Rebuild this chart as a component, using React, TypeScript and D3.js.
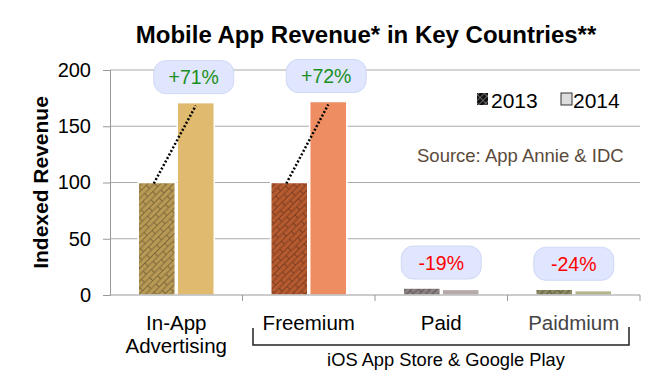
import * as d3 from 'd3'
import { useEffect, useRef } from 'react'

const categories = ['In-App Advertising', 'Freemium', 'Paid', 'Paidmium']
const categoryLines = [['In-App', 'Advertising'], ['Freemium'], ['Paid'], ['Paidmium']]
const years = ['2013', '2014']
const values2013 = [100, 100, 6.2, 5.1]
const values2014 = [171, 172, 5.0, 3.9]
const changeLabels = ['+71%', '+72%', '-19%', '-24%']
const yTicks = [0, 50, 100, 150, 200]

const colors2013 = ['#b89a55', '#b65a2f', '#8a8080', '#8c8a62']
const colors2014 = ['#dfba6f', '#ed8d61', '#b5a9a9', '#b5b48b']

const width = 664
const height = 384
const marginLeft = 110
const marginRight = 24
const yTop = 70
const yBottom = 295
const font = '"Liberation Sans", Arial, sans-serif'

export default function App() {
  const gy = useRef<SVGGElement>(null)

  const x0 = d3.scaleBand<string>().domain(categories).range([marginLeft, width - marginRight]).padding(0)
  const x1 = d3.scaleBand<string>().domain(years).range([-38, 38]).paddingInner(0.05)
  const y = d3.scaleLinear().domain([0, 200]).range([yBottom, yTop])
  const w = x1.bandwidth()

  useEffect(() => {
    const g = d3.select(gy.current as SVGGElement)
    g.selectAll('*').remove()
    g.call(d3.axisLeft(y).tickValues(yTicks).tickSize(7).tickPadding(12))
    g.select('.domain').attr('stroke', '#999')
    g.selectAll('.tick line').attr('stroke', '#999')
    g.selectAll('.tick text')
      .attr('font-family', font)
      .attr('font-size', 20)
      .attr('fill', '#000')
  }, [])

  const center = (c: string) => (x0(c) as number) + x0.bandwidth() / 2

  return (
    <svg width={width} height={height} style={{ position: 'absolute', left: 0, top: 0 }} fontFamily={font}>
      <defs>
        {categories.map((c, i) => (
          <pattern
            key={c}
            id={`brick${i}`}
            width={14}
            height={9}
            patternUnits="userSpaceOnUse"
            patternTransform="rotate(-45)"
          >
            <rect width={14} height={9} fill={colors2013[i]} />
            <path
              d="M0,0.5H14M0,5H14M0.5,0.5V5M7.5,5V9"
              stroke={d3.color(colors2013[i])!.darker(1.2).toString()}
              strokeWidth={0.9}
              fill="none"
            />
          </pattern>
        ))}
        <pattern id="legendBrick" width={6} height={4} patternUnits="userSpaceOnUse" patternTransform="rotate(-45)">
          <rect width={6} height={4} fill="#111" />
          <path d="M0,0.5H6M0.5,0.5V4" stroke="#888" strokeWidth={0.7} />
        </pattern>
      </defs>

      <text x={366} y={43} textAnchor="middle" fontSize={24} fontWeight="bold">
        Mobile App Revenue* in Key Countries**
      </text>

      {/* gridlines */}
      {yTicks.filter((t) => t > 0).map((t) => (
        <line key={t} x1={marginLeft} x2={width - marginRight} y1={y(t)} y2={y(t)} stroke="#aaa" strokeWidth={1} />
      ))}

      <text
        transform={`translate(48,${(yTop + yBottom) / 2}) rotate(-90)`}
        textAnchor="middle"
        fontSize={21}
        fontWeight="bold"
      >
        Indexed Revenue
      </text>

      {/* legend */}
      <rect x={477} y={93} width={11} height={12} fill="url(#legendBrick)" />
      <text x={491} y={108} fontSize={21}>2013</text>
      <rect x={561} y={93} width={11} height={12} fill="#ddd" stroke="#333" strokeWidth={1} />
      <text x={573} y={108} fontSize={21}>2014</text>

      <text x={417} y={162} fontSize={18.5} fill="#5a4a3a">Source: App Annie &amp; IDC</text>

      {/* bars */}
      {categories.map((c, i) => {
        const cx = center(c)
        const bx13 = cx + (x1('2013') as number)
        const bx14 = cx + (x1('2014') as number)
        return (
          <g key={c}>
            <rect x={bx13} y={y(values2013[i])} width={w} height={yBottom - y(values2013[i])} fill={`url(#brick${i})`} stroke="#fff" strokeWidth={1.5} />
            <rect x={bx14} y={y(values2014[i])} width={w} height={yBottom - y(values2014[i])} fill={colors2014[i]} stroke="#fff" strokeWidth={1.5} />
          </g>
        )
      })}

      {/* x axis */}
      <line x1={marginLeft} x2={width - marginRight} y1={yBottom} y2={yBottom} stroke="#999" />
      {categories.slice(1).map((c) => (
        <line key={c} x1={x0(c) as number} x2={x0(c) as number} y1={yBottom} y2={yBottom + 6} stroke="#999" />
      ))}
      <line x1={width - marginRight} x2={width - marginRight} y1={yBottom} y2={yBottom + 6} stroke="#999" />

      <g ref={gy} transform={`translate(${marginLeft},0)`} />

      {/* change lines and bubbles */}
      {categories.map((c, i) => {
        const cx = center(c)
        const bx13 = cx + (x1('2013') as number)
        const bx14 = cx + (x1('2014') as number)
        const up = values2014[i] > values2013[i]
        const bubbleW = 80
        const bubbleH = 33
        const bcx = up ? bx14 + w / 2 - 2 : cx
        const bBottom = y(Math.max(values2013[i], values2014[i])) - 9
        return (
          <g key={c}>
            {up && (
              <line
                x1={bx13 + w * 0.42}
                y1={y(values2013[i]) + 1}
                x2={bx14 + w * 0.5}
                y2={y(values2014[i]) + 3}
                stroke="#000"
                strokeWidth={2.5}
                strokeDasharray="2,2"
              />
            )}
            <rect
              x={bcx - bubbleW / 2}
              y={bBottom - bubbleH}
              width={bubbleW}
              height={bubbleH}
              rx={12}
              fill="#dfe6fd"
              stroke="#cfd8f6"
              strokeWidth={1}
            />
            <text x={bcx} y={bBottom - bubbleH / 2 + 7} textAnchor="middle" fontSize={19.5} fill={up ? '#1a8f22' : '#f00'}>
              {changeLabels[i]}
            </text>
          </g>
        )
      })}

      {/* category labels */}
      {categories.map((c, i) => (
        <text key={c} x={center(c)} y={330} textAnchor="middle" fontSize={20.5} fill={i === 3 ? '#444' : '#000'}>
          {categoryLines[i].map((l, j) => (
            <tspan key={l} x={center(c)} dy={j === 0 ? 0 : 23}>{l}</tspan>
          ))}
        </text>
      ))}

      {/* bracket */}
      <path d="M253,328V345H629V327" fill="none" stroke="#222" strokeWidth={1.5} />
      <text x={446} y={366} textAnchor="middle" fontSize={18.3}>iOS App Store &amp; Google Play</text>
    </svg>
  )
}
